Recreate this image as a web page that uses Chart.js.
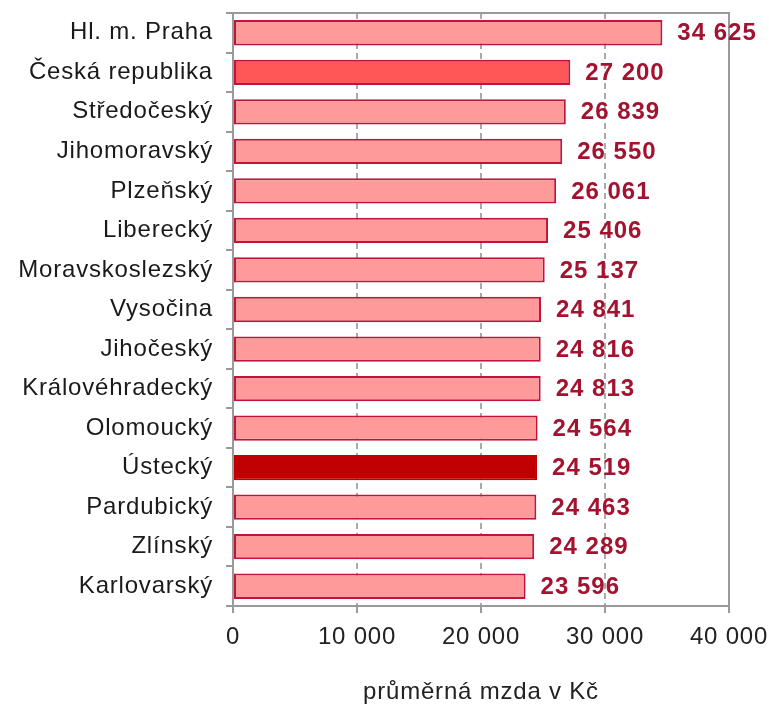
<!DOCTYPE html>
<html>
<head>
<meta charset="utf-8">
<script src="https://cdn.jsdelivr.net/npm/chart.js@4"></script>
<style>
  html, body { margin: 0; padding: 0; background: #fff; }
  #wrap { position: relative; width: 769px; height: 707px; }
</style>
</head>
<body>
<div id="wrap"><canvas id="c"></canvas></div>
<script>
const regions = [
  'Hl. m. Praha', 'Česká republika', 'Středočeský', 'Jihomoravský', 'Plzeňský',
  'Liberecký', 'Moravskoslezský', 'Vysočina', 'Jihočeský', 'Královéhradecký',
  'Olomoucký', 'Ústecký', 'Pardubický', 'Zlínský', 'Karlovarský'
];
const wages = [34625, 27200, 26839, 26550, 26061, 25406, 25137, 24841, 24816, 24813, 24564, 24519, 24463, 24289, 23596];
const xTicks = [0, 10000, 20000, 30000, 40000];
const axisTitle = 'průměrná mzda v Kč';

const fmt = v => String(v).replace(/\B(?=(\d{3})+(?!\d))/g, ' ');

const fillFor = name => name === 'Česká republika' ? '#FF5757' : name === 'Ústecký' ? '#C00000' : '#FF9A9A';
const borderFor = name => name === 'Ústecký' ? '#C00000' : '#C0143C';

const FONT = "'Liberation Sans', Arial, sans-serif";

const spacing = {
  id: 'spacing',
  beforeDraw(chart) { chart.ctx.letterSpacing = '0.8px'; },
};

const frame = {
  id: 'frame',
  afterDatasetsDraw(chart) {
    const { ctx, chartArea: a } = chart;
    ctx.save();
    ctx.strokeStyle = '#9a9a9a';
    ctx.lineWidth = 2;
    ctx.beginPath();
    ctx.moveTo(a.left, a.top);
    ctx.lineTo(a.right, a.top);
    ctx.lineTo(a.right, a.bottom);
    ctx.stroke();
    ctx.restore();
  },
};

const valueLabels = {
  id: 'valueLabels',
  afterDatasetsDraw(chart) {
    const ctx = chart.ctx;
    const meta = chart.getDatasetMeta(0);
    ctx.save();
    ctx.letterSpacing = '1px';
    ctx.font = 'bold 24px ' + FONT;
    ctx.fillStyle = '#A3122F';
    ctx.textAlign = 'left';
    ctx.textBaseline = 'middle';
    meta.data.forEach((bar, i) => {
      ctx.fillText(fmt(wages[i]), bar.x + 15, bar.y + 1);
    });
    ctx.restore();
  },
};

new Chart(document.getElementById('c'), {
  type: 'bar',
  data: {
    labels: regions,
    datasets: [{
      data: wages,
      backgroundColor: regions.map(fillFor),
      borderColor: regions.map(borderFor),
      borderWidth: 2,
      borderSkipped: false,
      categoryPercentage: 1,
      barPercentage: 0.64,
    }],
  },
  options: {
    indexAxis: 'y',
    responsive: true,
    maintainAspectRatio: false,
    animation: false,
    layout: { padding: { top: 13, right: 40, bottom: 0, left: 0 } },
    scales: {
      x: {
        min: 0,
        max: 40000,
        afterBuildTicks: s => { s.ticks = xTicks.map(v => ({ value: v })); },
        afterFit: s => {
          s.height = 101;
          s.paddingLeft = 0;
          s.paddingRight = 0;
        },
        ticks: {
          color: '#222',
          font: { family: FONT, size: 24 },
          padding: 10,
          callback: v => fmt(v),
        },
        grid: {
          color: '#aaaaaa',
          lineWidth: 2,
          tickLength: 7,
          tickColor: '#9a9a9a',
          tickBorderDash: [],
        },
        border: { display: true, color: '#9a9a9a', width: 2, dash: [6, 4] },
        title: {
          display: true,
          text: axisTitle,
          color: '#222',
          font: { family: FONT, size: 24 },
          padding: { top: 0, bottom: 0 },
        },
      },
      y: {
        afterFit: s => {
          s.width = 233;
          s.paddingTop = 0;
          s.paddingBottom = 0;
        },
        ticks: {
          color: '#1a1a1a',
          font: { family: FONT, size: 24 },
          padding: 13,
        },
        grid: {
          drawOnChartArea: false,
          tickLength: 7,
          color: '#9a9a9a',
          lineWidth: 2,
        },
        border: { display: true, color: '#9a9a9a', width: 2 },
      },
    },
    plugins: {
      legend: { display: false },
      tooltip: { enabled: false },
    },
  },
  plugins: [spacing, frame, valueLabels],
});
</script>
</body>
</html>
